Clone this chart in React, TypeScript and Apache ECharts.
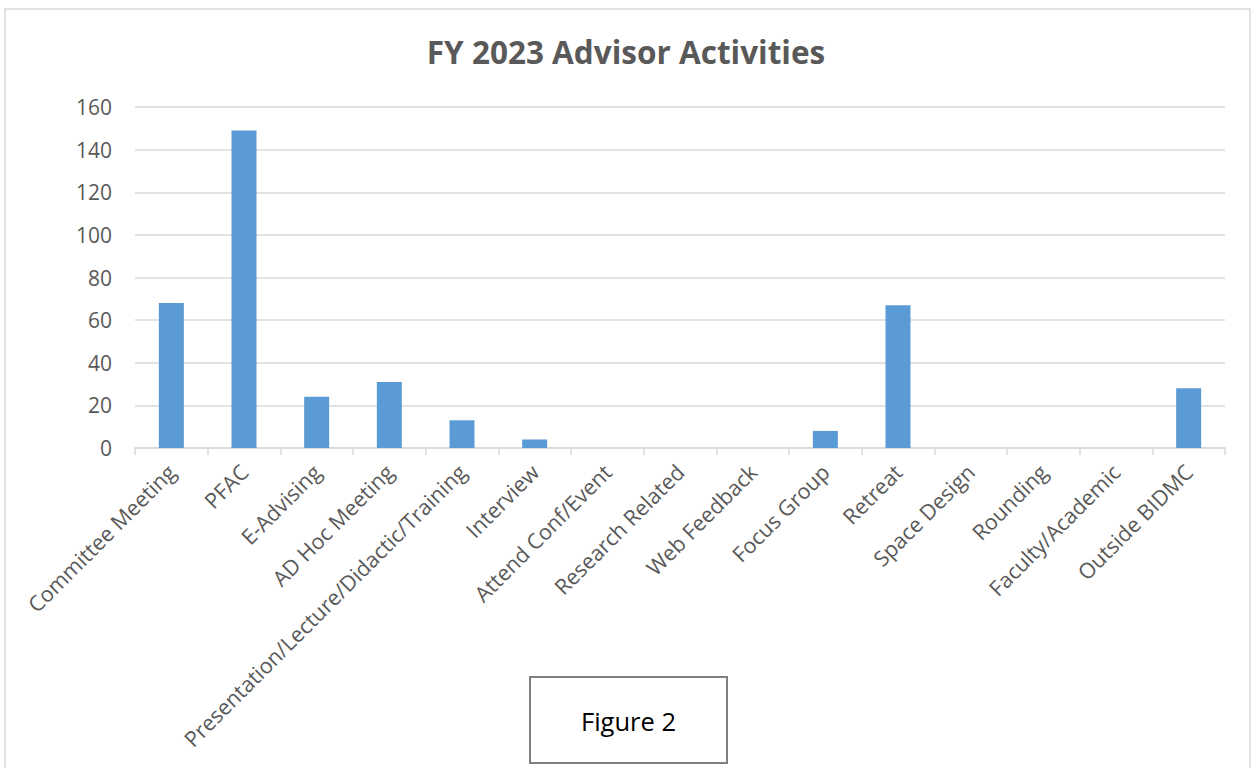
import React, { useEffect, useRef } from "react";
import * as echarts from "echarts";

const categories = [
  "Committee Meeting",
  "PFAC",
  "E-Advising",
  "AD Hoc Meeting",
  "Presentation/Lecture/Didactic/Training",
  "Interview",
  "Attend Conf/Event",
  "Research Related",
  "Web Feedback",
  "Focus Group",
  "Retreat",
  "Space Design",
  "Rounding",
  "Faculty/Academic",
  "Outside BIDMC",
];
const values = [68, 149, 24, 31, 13, 4, 0, 0, 0, 8, 67, 0, 0, 0, 28];
const titleText = "FY 2023 Advisor Activities";
const figureLabel = "Figure 2";

export default function App() {
  const ref = useRef<HTMLDivElement>(null);
  useEffect(() => {
    if (!ref.current) return;
    const chart = echarts.init(ref.current, undefined, { renderer: "svg" });
    const font = "'Open Sans', sans-serif";
    chart.setOption({
      animation: false,
      backgroundColor: "#ffffff",
      title: {
        text: titleText,
        left: "center",
        top: 30,
        textStyle: { fontFamily: font, fontSize: 31.5, fontWeight: "bold", color: "#595959" },
      },
      grid: { left: 135, right: 27, top: 107, bottom: 320, containLabel: false },
      xAxis: {
        type: "category",
        data: categories,
        axisLine: { lineStyle: { color: "#d9d9d9", width: 1.5 } },
        axisTick: { show: true, length: 7, lineStyle: { color: "#d9d9d9", width: 1.5 } },
        axisLabel: {
          rotate: 45,
          interval: 0,
          margin: 20,
          fontFamily: font,
          fontSize: 21.5,
          color: "#595959",
        },
      },
      yAxis: {
        type: "value",
        min: 0,
        max: 160,
        interval: 20,
        axisLine: { show: false },
        axisTick: { show: false },
        splitLine: { lineStyle: { color: "#d9d9d9", width: 1.5 } },
        axisLabel: { fontFamily: font, fontSize: 21, color: "#595959", margin: 23 },
      },
      series: [
        {
          type: "bar",
          data: values,
          barWidth: 25,
          itemStyle: { color: "#5b9bd5", borderWidth: 0 },
        },
      ],
      graphic: [
        {
          type: "rect",
          shape: { x: 5, y: 9, width: 1245, height: 780 },
          style: { fill: "none", stroke: "#d9d9d9", lineWidth: 1.5 },
          silent: true,
        },
        {
          type: "rect",
          shape: { x: 530, y: 677, width: 197, height: 86 },
          style: { fill: "#ffffff", stroke: "#7f7f7f", lineWidth: 2 },
        },
        {
          type: "text",
          x: 628.5,
          y: 721,
          style: {
            text: figureLabel,
            fontFamily: font,
            fontSize: 25.5,
            fill: "#000000",
            textAlign: "center",
            textVerticalAlign: "middle",
          },
        },
      ],
    });
    return () => chart.dispose();
  }, []);
  return (
    <div
      ref={ref}
      style={{ position: "fixed", left: 0, top: 0, width: 1252, height: 768 }}
    />
  );
}
